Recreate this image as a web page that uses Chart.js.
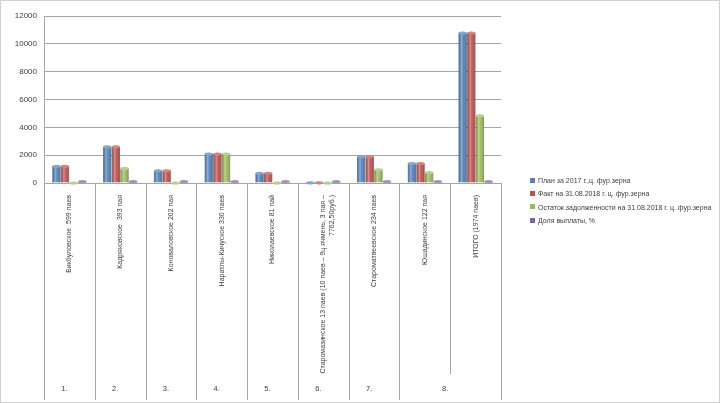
<!DOCTYPE html>
<html>
<head>
<meta charset="utf-8">
<script src="https://cdn.jsdelivr.net/npm/chart.js@4"></script>
<style>
    html, body { margin: 0; padding: 0; background: #fff; }
    #wrap { width: 720px; height: 403px; box-sizing: border-box; border: 1px solid #d0d0d0; position: relative; }
    #legend { position: absolute; left: 529px; top: 173px; font: 7px "Liberation Sans", Arial, sans-serif; color: #404040; }
    #legend div { height: 13.4px; line-height: 13.4px; white-space: nowrap; }
    #legend span { display: inline-block; width: 5px; height: 5px; margin-right: 3px; vertical-align: middle; position: relative; top: -1px; }
</style>
</head>
<body>
<div id="wrap"><canvas id="chart"></canvas><div id="legend"></div></div>
<script>
// Категории (хозяйства)
const categories = [
    'Бикбуловское  599 паев',
    'Кадряковское  393 пая',
    'Коноваловское 202 пая',
    'Наратлы-Кичуское 330 паев',
    'Николаевское 81 пай',
    ['Старомазинское 13 паев (10 паев – 9ц ячмень, 3 пая –', '7762,50руб.)'],
    'Староматвеевское 234 паев',
    'Юшадинское 122 пая',
    'ИТОГО (1974 паев)'
];

// Нумерация (второй уровень оси), последний номер охватывает 2 категории
const groupLabels = ['1.', '2.', '3.', '4.', '5.', '6.', '7.', '8.'];
const groupSpans = [1, 1, 1, 1, 1, 1, 1, 2];

const seriesNames = [
    'План за 2017 г.,ц. фур.зерна',
    'Факт на 31.08.2018 г. ц. фур.зерна',
    'Остаток задолженности на 31.08.2018 г. ц. фур.зерна',
    'Доля выплаты, %'
];

const planValues = [1200, 2600, 880, 2080, 700, 13, 1900, 1400, 10773];
const factValues = [1200, 2600, 880, 2080, 700, 13, 1900, 1400, 10773];
const restValues = [0, 1050, 0, 2080, 0, 0, 950, 750, 4830];
const shareValues = [100, 100, 100, 100, 100, 100, 100, 100, 100];

const yTicks = [0, 2000, 4000, 6000, 8000, 10000, 12000];

const colors = ['#4F81BD', '#C0504D', '#9BBB59', '#8064A2'];
const edgeColors = ['#2c5a8f', '#8f2f2c', '#6c8a36', '#5a4379'];

Chart.defaults.font.family = '"Liberation Sans", Arial, sans-serif';
Chart.defaults.color = '#404040';

// Цилиндрический блик поверх столбцов
const cylinderPlugin = {
    id: 'cylinder',
    afterDatasetsDraw(chart) {
        const ctx = chart.ctx;
        chart.data.datasets.forEach((ds, di) => {
            const meta = chart.getDatasetMeta(di);
            meta.data.forEach(bar => {
                const { x, y, base, width } = bar.getProps(['x', 'y', 'base', 'width'], true);
                const left = x - width / 2;
                const g = ctx.createLinearGradient(left, 0, left + width, 0);
                g.addColorStop(0, 'rgba(0,0,0,0.25)');
                g.addColorStop(0.35, 'rgba(255,255,255,0.35)');
                g.addColorStop(0.6, 'rgba(255,255,255,0.05)');
                g.addColorStop(1, 'rgba(0,0,0,0.3)');
                ctx.save();
                ctx.fillStyle = g;
                ctx.fillRect(left, y, width, base - y);
                // верхняя крышка
                ctx.beginPath();
                ctx.ellipse(x, y, width / 2, 1.6, 0, 0, Math.PI * 2);
                ctx.fillStyle = colors[di];
                ctx.fill();
                ctx.fillStyle = 'rgba(255,255,255,0.3)';
                ctx.fill();
                ctx.restore();
            });
        });
    }
};

// Сетка под осью категорий и второй уровень подписей
const categoryGridPlugin = {
    id: 'categoryGrid',
    afterDraw(chart) {
        const xs = chart.scales.x;
        const ctx = chart.ctx;
        const n = categories.length;
        const bottom = chart.height - 2;
        const boundary = i => {
            if (i === 0) return xs.left;
            if (i === n) return xs.right;
            return (xs.getPixelForValue(i - 1) + xs.getPixelForValue(i)) / 2;
        };
        // какие границы находятся внутри группы
        const inner = new Set();
        let idx = 0;
        groupSpans.forEach(s => {
            for (let k = 1; k < s; k++) inner.add(idx + k);
            idx += s;
        });
        ctx.save();
        ctx.strokeStyle = '#a6a6a6';
        ctx.lineWidth = 1;
        for (let i = 0; i <= n; i++) {
            const px = Math.round(boundary(i)) + 0.5;
            ctx.beginPath();
            ctx.moveTo(px, xs.top);
            ctx.lineTo(px, inner.has(i) ? bottom - 26 : bottom);
            ctx.stroke();
        }
        ctx.fillStyle = '#404040';
        ctx.font = '7.5px "Liberation Sans", Arial, sans-serif';
        ctx.textAlign = 'center';
        ctx.textBaseline = 'middle';
        idx = 0;
        groupLabels.forEach((lbl, gi) => {
            const l = boundary(idx);
            const r = boundary(idx + groupSpans[gi]);
            ctx.fillText(lbl, (l + r) / 2 - 5, bottom - 11);
            idx += groupSpans[gi];
        });
        ctx.restore();
    }
};

const datasetValues = [planValues, factValues, restValues, shareValues];

// Легенда (HTML)
const legendEl = document.getElementById('legend');
seriesNames.forEach((name, i) => {
    const row = document.createElement('div');
    const box = document.createElement('span');
    box.style.background = colors[i];
    row.appendChild(box);
    row.appendChild(document.createTextNode(name));
    legendEl.appendChild(row);
});

new Chart(document.getElementById('chart'), {
    type: 'bar',
    data: {
        labels: categories,
        datasets: datasetValues.map((vals, i) => ({
            label: seriesNames[i],
            data: vals,
            backgroundColor: colors[i],
            borderColor: edgeColors[i],
            borderWidth: 0.5,
            categoryPercentage: 0.68,
            barPercentage: 0.96
        }))
    },
    options: {
        responsive: true,
        maintainAspectRatio: false,
        animation: false,
        layout: { padding: { top: 15, right: 218, left: 0, bottom: 0 } },
        plugins: {
            legend: { display: false },
            tooltip: { enabled: false }
        },
        scales: {
            y: {
                min: 0,
                max: 12000,
                afterFit(scale) { scale.width = 43; },
                afterBuildTicks(scale) { scale.ticks = yTicks.map(v => ({ value: v })); },
                ticks: {
                    font: { size: 8 },
                    color: '#404040',
                    padding: 7,
                    callback: v => String(v)
                },
                grid: { color: '#a6a6a6', drawTicks: false },
                border: { color: '#a6a6a6' }
            },
            x: {
                afterFit(scale) { scale.height = 219; },
                ticks: {
                    autoSkip: false,
                    minRotation: 90,
                    maxRotation: 90,
                    padding: 4,
                    font: { size: 7 },
                    color: '#404040'
                },
                grid: { display: false },
                border: { color: '#a6a6a6' }
            }
        }
    },
    plugins: [cylinderPlugin, categoryGridPlugin]
});
</script>
</body>
</html>
